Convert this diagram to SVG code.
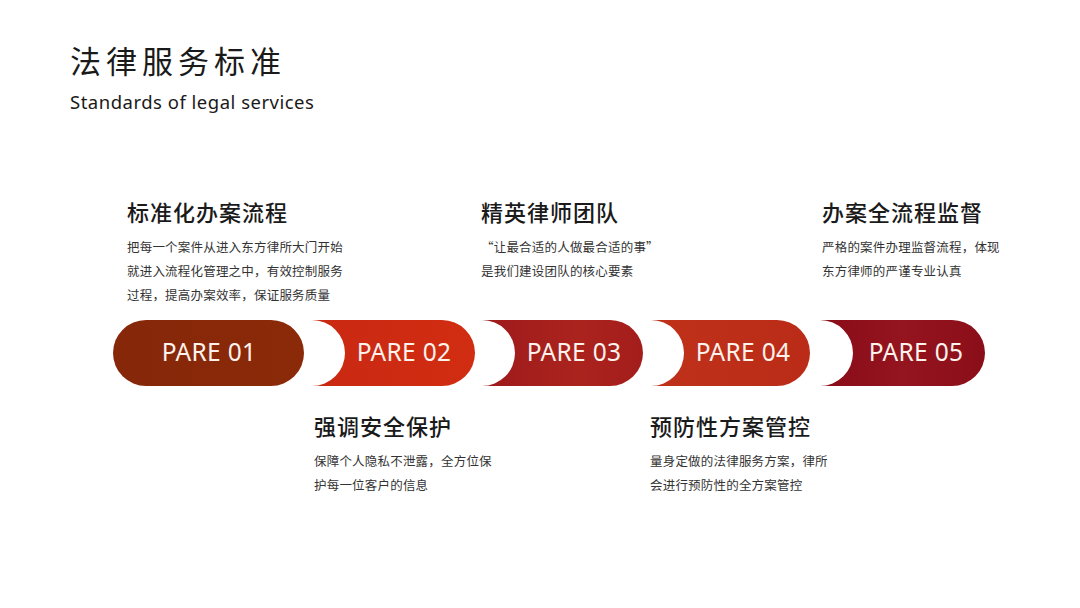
<svg xmlns="http://www.w3.org/2000/svg" width="1080" height="608" viewBox="0 0 1080 608">
<defs>
<linearGradient id="g1" x1="0" y1="0" x2="1" y2="0"><stop offset="0" stop-color="#86270a"/><stop offset="1" stop-color="#8a2a08"/></linearGradient>
<linearGradient id="g2" x1="0" y1="0" x2="1" y2="0"><stop offset="0" stop-color="#c92812"/><stop offset="1" stop-color="#d12d12"/></linearGradient>
<linearGradient id="g3" x1="0" y1="0" x2="1" y2="0"><stop offset="0" stop-color="#9d1a1c"/><stop offset="0.6" stop-color="#ab231d"/><stop offset="1" stop-color="#a31d1c"/></linearGradient>
<linearGradient id="g4" x1="0" y1="0" x2="1" y2="0"><stop offset="0" stop-color="#c0311a"/><stop offset="1" stop-color="#bb2c18"/></linearGradient>
<linearGradient id="g5" x1="0" y1="0" x2="1" y2="0"><stop offset="0" stop-color="#880c18"/><stop offset="0.5" stop-color="#94141f"/><stop offset="1" stop-color="#8a0e19"/></linearGradient>
<style>
.h{font-family:"Noto Sans CJK SC","Noto Sans",sans-serif;font-size:22px;font-weight:500;fill:#1a1a1a;letter-spacing:1px}
.b{font-family:"Noto Sans CJK SC","Noto Sans",sans-serif;font-size:12.5px;fill:#333;letter-spacing:0.2px}
.p{font-family:"Noto Sans","Open Sans",sans-serif;font-size:24.5px;fill:#fdf2ec;text-anchor:middle;letter-spacing:0.3px}
</style>
</defs>
<rect width="1080" height="608" fill="#ffffff"/>
<text x="70" y="73" font-family="Noto Sans CJK SC, Noto Sans, sans-serif" font-size="31" letter-spacing="5" fill="#1a1a1a">法律服务标准</text>
<text x="70" y="109" font-family="Noto Sans, sans-serif" font-size="18.5" letter-spacing="0.5" fill="#1a1a1a">Standards of legal services</text>

<g id="node1">
<path d="M146,320 H271 A33,33 0 0 1 271,386 H146 A33,33 0 0 1 146,320 Z" fill="url(#g1)"/>
<text class="p" x="209" y="361">PARE 01</text>
<text class="h" x="127" y="221">标准化办案流程</text>
<text class="b" x="127" y="252">把每一个案件从进入东方律所大门开始</text>
<text class="b" x="127" y="276">就进入流程化管理之中，有效控制服务</text>
<text class="b" x="127" y="300">过程，提高办案效率，保证服务质量</text>
</g>
<g id="node2">
<path d="M312,320 H442 A33,33 0 0 1 442,386 H312 A33,33 0 0 0 312,320 Z" fill="url(#g2)"/>
<text class="p" x="404" y="361">PARE 02</text>
<text class="h" x="314" y="435">强调安全保护</text>
<text class="b" x="314" y="466">保障个人隐私不泄露，全方位保</text>
<text class="b" x="314" y="490">护每一位客户的信息</text>
</g>
<g id="node3">
<path d="M482,320 H610 A33,33 0 0 1 610,386 H482 A33,33 0 0 0 482,320 Z" fill="url(#g3)"/>
<text class="p" x="574" y="361">PARE 03</text>
<text class="h" x="481" y="221">精英律师团队</text>
<text class="b" x="481" y="252">“让最合适的人做最合适的事”</text>
<text class="b" x="481" y="276">是我们建设团队的核心要素</text>
</g>
<g id="node4">
<path d="M651,320 H777 A33,33 0 0 1 777,386 H651 A33,33 0 0 0 651,320 Z" fill="url(#g4)"/>
<text class="p" x="743" y="361">PARE 04</text>
<text class="h" x="650" y="435">预防性方案管控</text>
<text class="b" x="650" y="466">量身定做的法律服务方案，律所</text>
<text class="b" x="650" y="490">会进行预防性的全方案管控</text>
</g>
<g id="node5">
<path d="M820,320 H952 A33,33 0 0 1 952,386 H820 A33,33 0 0 0 820,320 Z" fill="url(#g5)"/>
<text class="p" x="916" y="361">PARE 05</text>
<text class="h" x="822" y="221">办案全流程监督</text>
<text class="b" x="822" y="252">严格的案件办理监督流程，体现</text>
<text class="b" x="822" y="276">东方律师的严谨专业认真</text>
</g>
<g id="connectors"></g>
</svg>
